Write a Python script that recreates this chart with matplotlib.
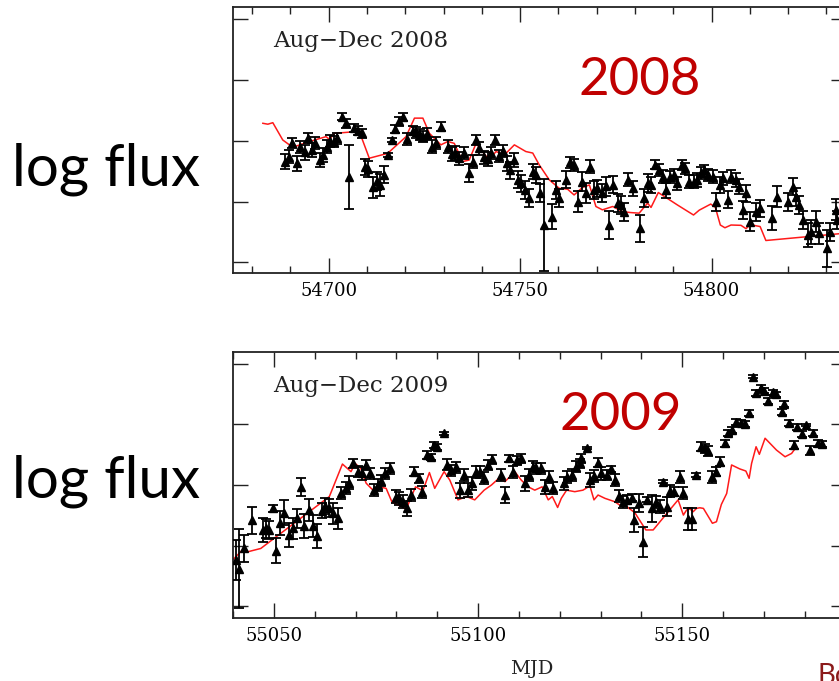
import matplotlib
matplotlib.use("Agg")
import matplotlib.pyplot as plt
from matplotlib.ticker import MultipleLocator, FixedLocator, NullFormatter, StrMethodFormatter

# ---------------- Aug-Dec 2008 ----------------
mjd_2008 = [54688.7, 54689.6, 54690.4, 54691.7, 54692.4, 54693.7, 54694.5, 54695.7, 54696.4, 54697.6,
            54698.4, 54699.5, 54700.4, 54701.5, 54702.2, 54703.5, 54704.5, 54705.4, 54706.7, 54707.6,
            54708.6, 54709.6, 54710.3, 54711.7, 54712.5, 54713.5, 54714.5, 54715.6, 54716.6, 54717.3,
            54718.3, 54719.3, 54720.4, 54721.9, 54722.8, 54723.9, 54724.7, 54725.6, 54727.0, 54728.0,
            54729.3, 54731.1, 54732.2, 54733.1, 54734.1, 54735.4, 54736.6, 54737.6, 54738.5, 54739.3,
            54740.5, 54741.5, 54742.4, 54743.5, 54744.4, 54745.4, 54746.5, 54747.3, 54748.3, 54749.4,
            54750.2, 54751.4, 54752.2, 54753.3, 54754.1, 54755.2, 54756.3, 54758.2, 54759.4, 54760.2,
            54762.1, 54763.0, 54764.1, 54765.0, 54766.2, 54767.2, 54768.2, 54769.4, 54770.2, 54771.4,
            54772.4, 54773.3, 54774.2, 54775.5, 54776.3, 54777.2, 54778.3, 54779.4, 54781.3, 54782.4,
            54783.5, 54784.2, 54785.2, 54786.3, 54787.2, 54788.1, 54789.2, 54790.1, 54791.1, 54792.2,
            54793.0, 54794.2, 54795.3, 54796.2, 54797.2, 54798.1, 54799.0, 54800.3, 54801.1, 54802.3,
            54803.1, 54804.2, 54805.2, 54806.4, 54807.2, 54808.1, 54809.0, 54810.1, 54811.6, 54812.7,
            54815.9, 54817.1, 54820.0, 54821.2, 54822.0, 54822.9, 54824.0, 54825.1, 54826.0, 54827.3,
            54828.1, 54830.1, 54831.0, 54832.5, 54832.9]
flux_2008 = [-0.068, -0.052, -0.006, -0.074, -0.019, -0.038, 0.009, -0.030, -0.008, -0.063,
             -0.046, -0.019, 0.001, -0.002, 0.009, 0.080, 0.058, -0.120, 0.042, 0.034,
             0.025, -0.085, -0.093, -0.153, -0.131, -0.145, -0.112, -0.046, 0.003, 0.039,
             0.064, 0.078, 0.006, 0.034, 0.029, 0.020, 0.014, 0.023, -0.019, -0.008,
             0.047, -0.019, -0.043, -0.040, -0.057, -0.040, -0.106, -0.068, 0.003, -0.024,
             -0.054, -0.060, -0.040, 0.003, -0.049, -0.032, -0.074, -0.096, -0.063, -0.128,
             -0.139, -0.161, -0.189, -0.101, -0.112, -0.172, -0.277, -0.249, -0.161, -0.189,
             -0.128, -0.071, -0.079, -0.200, -0.134, -0.172, -0.085, -0.161, -0.156, -0.172,
             -0.150, -0.277, -0.145, -0.205, -0.211, -0.233, -0.128, -0.156, -0.288, -0.189,
             -0.139, -0.145, -0.079, -0.096, -0.118, -0.162, -0.118, -0.112, -0.140, -0.079,
             -0.090, -0.134, -0.134, -0.129, -0.107, -0.096, -0.112, -0.118, -0.200, -0.145,
             -0.123, -0.194, -0.118, -0.129, -0.151, -0.227, -0.173, -0.266, -0.233, -0.222,
             -0.255, -0.184, -0.200, -0.151, -0.184, -0.211, -0.260, -0.310, -0.300, -0.266,
             -0.304, -0.354, -0.299, -0.227, -0.260]
err_2008 = [0.025, 0.022, 0.016, 0.024, 0.020, 0.024, 0.016, 0.024, 0.020, 0.024,
            0.024, 0.022, 0.020, 0.018, 0.018, 0.012, 0.015, 0.105, 0.014, 0.015,
            0.015, 0.027, 0.027, 0.035, 0.030, 0.035, 0.028, 0.006, 0.008, 0.012,
            0.015, 0.014, 0.020, 0.015, 0.018, 0.018, 0.018, 0.018, 0.022, 0.020,
            0.015, 0.022, 0.024, 0.022, 0.022, 0.020, 0.030, 0.022, 0.015, 0.022,
            0.022, 0.022, 0.020, 0.016, 0.020, 0.020, 0.024, 0.028, 0.022, 0.028,
            0.028, 0.030, 0.030, 0.025, 0.025, 0.030, 0.150, 0.040, 0.030, 0.030,
            0.028, 0.018, 0.020, 0.035, 0.030, 0.032, 0.022, 0.030, 0.028, 0.030,
            0.030, 0.045, 0.028, 0.030, 0.030, 0.030, 0.022, 0.025, 0.045, 0.030,
            0.030, 0.025, 0.015, 0.020, 0.022, 0.025, 0.020, 0.020, 0.022, 0.016,
            0.018, 0.022, 0.022, 0.022, 0.020, 0.018, 0.020, 0.022, 0.030, 0.025,
            0.022, 0.028, 0.022, 0.022, 0.025, 0.030, 0.028, 0.032, 0.030, 0.028,
            0.040, 0.035, 0.030, 0.028, 0.030, 0.030, 0.030, 0.040, 0.040, 0.035,
            0.035, 0.060, 0.030, 0.035, 0.030]
model_mjd_2008 = [54682.8, 54684.1, 54685.4, 54688.0, 54690.6, 54695.0, 54699.3, 54700.2, 54701.5, 54707.6,
                  54708.5, 54710.6, 54715.4, 54720.2, 54722.4, 54724.6, 54726.3, 54729.3, 54731.1, 54732.8,
                  54735.0, 54736.7, 54738.5, 54741.9, 54743.7, 54745.9, 54748.5, 54751.5, 54753.3, 54755.0,
                  54757.6, 54760.2, 54762.4, 54764.1, 54766.3, 54768.1, 54769.8, 54771.5, 54774.2, 54776.8,
                  54778.9, 54781.1, 54783.3, 54784.2, 54786.1, 54791.1, 54795.3, 54796.8, 54799.8, 54801.0,
                  54802.3, 54803.5, 54805.1, 54807.7, 54809.0, 54810.1, 54812.7, 54814.2, 54833.1, 54835.0]
model_flux_2008 = [0.058, 0.055, 0.060, 0.003, -0.021, -0.002, 0.014, 0.005, 0.025, 0.031,
                   0.014, -0.057, -0.041, 0.014, 0.075, 0.075, 0.025, -0.013, -0.002, -0.008,
                   -0.068, -0.063, -0.008, -0.063, -0.035, -0.046, -0.013, -0.035, -0.040, -0.079,
                   -0.128, -0.156, -0.159, -0.178, -0.153, -0.145, -0.216, -0.227, -0.216, -0.233,
                   -0.236, -0.238, -0.205, -0.219, -0.170, -0.211, -0.244, -0.228, -0.208, -0.219,
                   -0.277, -0.286, -0.277, -0.278, -0.289, -0.276, -0.282, -0.328, -0.306, -0.303]

# ---------------- Aug-Dec 2009 ----------------
mjd_2009 = [55040.7, 55041.4, 55042.7, 55044.6, 55047.4, 55048.2, 55048.9, 55049.7, 55050.5, 55051.5,
            55052.5, 55053.6, 55054.6, 55055.6, 55056.6, 55057.4, 55058.5, 55059.5, 55060.6, 55061.8,
            55062.6, 55063.6, 55064.6, 55065.6, 55066.4, 55067.7, 55068.5, 55069.5, 55070.5, 55071.6,
            55072.6, 55073.5, 55074.6, 55075.4, 55076.2, 55077.3, 55078.4, 55079.8, 55080.7, 55081.7,
            55082.5, 55083.6, 55084.4, 55085.5, 55086.4, 55087.4, 55088.5, 55089.3, 55089.9, 55091.7,
            55092.5, 55093.5, 55094.5, 55095.5, 55096.6, 55097.6, 55098.5, 55099.4, 55100.4, 55101.5,
            55102.5, 55103.4, 55105.6, 55106.5, 55107.5, 55108.6, 55109.6, 55110.5, 55111.4, 55112.5,
            55113.5, 55114.3, 55115.4, 55116.4, 55117.3, 55118.4, 55121.1, 55121.9, 55122.9, 55123.9,
            55124.9, 55125.3, 55126.6, 55127.4, 55128.4, 55129.4, 55130.2, 55131.5, 55132.5, 55133.5,
            55134.5, 55135.5, 55136.6, 55137.6, 55138.3, 55139.5, 55140.5, 55141.4, 55142.5, 55143.6,
            55144.5, 55145.4, 55146.3, 55147.1, 55148.0, 55149.4, 55150.3, 55151.5, 55152.3, 55153.5,
            55154.5, 55155.6, 55156.4, 55157.4, 55158.3, 55159.2, 55160.5, 55161.3, 55162.1, 55163.3,
            55164.3, 55165.4, 55166.4, 55167.4, 55168.2, 55169.2, 55170.0, 55171.1, 55172.3, 55173.1,
            55174.4, 55174.9, 55176.2, 55177.4, 55178.0, 55179.3, 55180.3, 55181.3, 55182.1, 55183.3,
            55184.2]
flux_2009 = [-0.247, -0.275, -0.209, -0.116, -0.148, -0.143, -0.148, -0.077, -0.216, -0.126,
             -0.091, -0.165, -0.143, -0.110, -0.006, -0.135, -0.082, -0.135, -0.168, -0.085,
             -0.069, -0.077, -0.093, -0.110, -0.025, -0.011, 0.008, 0.071, 0.044, 0.038,
             0.066, 0.038, -0.016, 0.000, 0.014, 0.038, 0.055, -0.038, -0.044, -0.055,
             -0.077, -0.033, 0.044, 0.022, -0.022, 0.099, 0.093, 0.132, 0.125, 0.170,
             0.066, 0.049, 0.058, -0.017, 0.033, -0.017, 0.005, 0.044, 0.044, 0.022,
             0.066, 0.084, 0.033, -0.033, 0.088, 0.044, 0.082, 0.088, 0.005, 0.033,
             0.060, 0.055, 0.055, -0.006, 0.027, -0.011, 0.005, 0.027, 0.033, 0.060,
             0.071, 0.088, 0.121, 0.016, 0.030, 0.074, 0.038, 0.033, 0.052, 0.016,
             -0.036, -0.055, -0.049, -0.042, -0.115, -0.060, -0.187, -0.049, -0.077, -0.055,
             -0.071, 0.011, -0.071, -0.020, -0.022, 0.027, -0.027, -0.112, -0.112, 0.033,
             0.126, 0.121, 0.112, 0.027, 0.044, 0.077, 0.137, 0.170, 0.181, 0.206,
             0.203, 0.200, 0.236, 0.357, 0.302, 0.321, 0.310, 0.277, 0.305, 0.299,
             0.239, 0.266, 0.203, 0.132, 0.192, 0.167, 0.198, 0.115, 0.170, 0.137,
             0.134]
err_2009 = [0.065, 0.130, 0.045, 0.045, 0.040, 0.030, 0.030, 0.012, 0.040, 0.040,
            0.040, 0.040, 0.035, 0.030, 0.030, 0.040, 0.035, 0.035, 0.040, 0.025,
            0.025, 0.030, 0.035, 0.035, 0.020, 0.020, 0.022, 0.015, 0.018, 0.020,
            0.015, 0.018, 0.020, 0.020, 0.018, 0.018, 0.018, 0.022, 0.022, 0.022,
            0.025, 0.020, 0.015, 0.015, 0.020, 0.012, 0.010, 0.010, 0.010, 0.004,
            0.018, 0.018, 0.018, 0.025, 0.020, 0.022, 0.022, 0.020, 0.020, 0.020,
            0.016, 0.016, 0.020, 0.025, 0.012, 0.020, 0.015, 0.015, 0.025, 0.020,
            0.018, 0.018, 0.018, 0.022, 0.020, 0.020, 0.022, 0.020, 0.020, 0.018,
            0.015, 0.015, 0.004, 0.022, 0.020, 0.016, 0.020, 0.018, 0.010, 0.020,
            0.020, 0.020, 0.015, 0.012, 0.040, 0.030, 0.050, 0.008, 0.045, 0.020,
            0.020, 0.006, 0.030, 0.020, 0.015, 0.020, 0.020, 0.035, 0.035, 0.006,
            0.015, 0.015, 0.015, 0.020, 0.015, 0.015, 0.012, 0.010, 0.010, 0.010,
            0.010, 0.010, 0.010, 0.005, 0.010, 0.008, 0.008, 0.010, 0.008, 0.008,
            0.010, 0.010, 0.010, 0.012, 0.010, 0.010, 0.004, 0.015, 0.010, 0.012,
            0.010]
model_mjd_2009 = [55039.9, 55042.3, 55043.6, 55046.8, 55063.6, 55066.8, 55068.9, 55069.9, 55071.3, 55072.6,
                  55074.2, 55075.8, 55077.5, 55078.9, 55082.4, 55084.7, 55086.5, 55088.1, 55089.4, 55091.7,
                  55093.1, 55095.1, 55097.2, 55099.2, 55101.5, 55103.3, 55105.1, 55106.6, 55109.0, 55110.6,
                  55112.3, 55113.9, 55115.7, 55117.2, 55118.2, 55119.5, 55120.4, 55121.7, 55123.7, 55125.7,
                  55127.4, 55128.4, 55129.4, 55131.1, 55133.5, 55134.7, 55136.4, 55138.4, 55141.1, 55142.9,
                  55149.0, 55150.3, 55151.1, 55151.9, 55152.7, 55153.5, 55154.3, 55155.2, 55157.4, 55158.4,
                  55159.6, 55160.9, 55162.1, 55164.1, 55165.6, 55166.4, 55167.0, 55168.1, 55168.9, 55170.3,
                  55173.1, 55175.2, 55176.8, 55178.0]
model_flux_2009 = [-0.247, -0.214, -0.220, -0.209, -0.038, 0.069, 0.044, 0.071, 0.055, 0.006,
                   -0.016, -0.006, -0.011, -0.055, -0.080, -0.006, -0.019, 0.041, -0.011, 0.044,
                   0.016, -0.049, -0.038, -0.049, -0.017, 0.000, 0.022, 0.011, 0.044, 0.016,
                   -0.006, -0.017, -0.006, -0.049, -0.038, -0.074, -0.044, -0.017, -0.022, -0.017,
                   -0.003, -0.049, -0.033, -0.044, -0.055, -0.066, -0.071, -0.091, -0.148, -0.148,
                   -0.049, -0.099, -0.082, -0.079, -0.088, -0.077, -0.075, -0.077, -0.126, -0.121,
                   -0.064, -0.028, 0.066, 0.053, 0.046, 0.022, 0.071, 0.126, 0.101, 0.154,
                   0.115, 0.093, 0.104, 0.126]

ytick_values = [-0.4, -0.2, 0.0, 0.2, 0.4]

W, H = 839, 681
fig = plt.figure(figsize=(W / 100, H / 100), dpi=100)
fig.patch.set_facecolor("white")


def add_axes_px(x0, y0, x1, y1):
    return fig.add_axes([x0 / W, 1 - y1 / H, (x1 - x0) / W, (y1 - y0) / H])


def draw_panel(ax, mjd, flux, err, model_mjd, model_flux, xlim, ylim, season):
    ax.plot(model_mjd, model_flux, color="#ff1a1a", lw=1.1, zorder=2)
    ax.errorbar(mjd, flux, yerr=err, fmt="^", color="black", ms=6.3,
                elinewidth=1.3, capsize=3.4, capthick=1.3, zorder=3)
    ax.set_xlim(*xlim)
    ax.set_ylim(*ylim)
    ax.xaxis.set_major_locator(MultipleLocator(50))
    ax.xaxis.set_minor_locator(MultipleLocator(10))
    ax.xaxis.set_major_formatter(StrMethodFormatter("{x:.0f}"))
    ax.yaxis.set_major_locator(FixedLocator(ytick_values))
    ax.yaxis.set_major_formatter(NullFormatter())
    ax.tick_params(which="both", direction="in", top=True, right=True,
                   width=1.0, color="#222222")
    ax.tick_params(which="major", length=10.5)
    ax.tick_params(which="minor", length=5)
    ax.tick_params(axis="x", labelsize=13, pad=6)
    for lab in ax.get_xticklabels():
        lab.set_fontfamily("DejaVu Serif")
    for s in ax.spines.values():
        s.set_linewidth(1.3)
        s.set_color("#222222")
    ax.text(0.065, 0.85, season, transform=ax.transAxes, fontsize=16.5,
            family="DejaVu Serif", color="#222222", va="baseline")


ax1 = add_axes_px(233, 7.3, 845.5, 273.3)
draw_panel(ax1, mjd_2008, flux_2008, err_2008, model_mjd_2008, model_flux_2008,
           (54675, 54835), (-0.436, 0.44), "Aug\u2212Dec 2008")

ax2 = add_axes_px(233, 351.7, 845.5, 618.3)
draw_panel(ax2, mjd_2009, flux_2009, err_2009, model_mjd_2009, model_flux_2009,
           (55040, 55190), (-0.439, 0.439), "Aug\u2212Dec 2009")


def fig_text(x, y, s, **kw):
    fig.text(x / W, 1 - y / H, s, **kw)


fig_text(532, 669, "MJD", fontsize=14, family="DejaVu Serif", ha="center", va="center",
         color="#222222")
fig_text(12, 169, "log flux", fontsize=42, family="Lato", ha="left", va="center")
fig_text(12, 481, "log flux", fontsize=42, family="Lato", ha="left", va="center")
fig_text(640, 95, "2008", fontsize=38, family="Lato", ha="center", va="baseline",
         color="#c00000")
fig_text(621, 430, "2009", fontsize=38, family="Lato", ha="center", va="baseline",
         color="#c00000")
fig_text(818, 684, "Bo", fontsize=20, family="Lato", ha="left",
         va="baseline", color="#8b1a1a")

fig.savefig("out.png", dpi=100)
